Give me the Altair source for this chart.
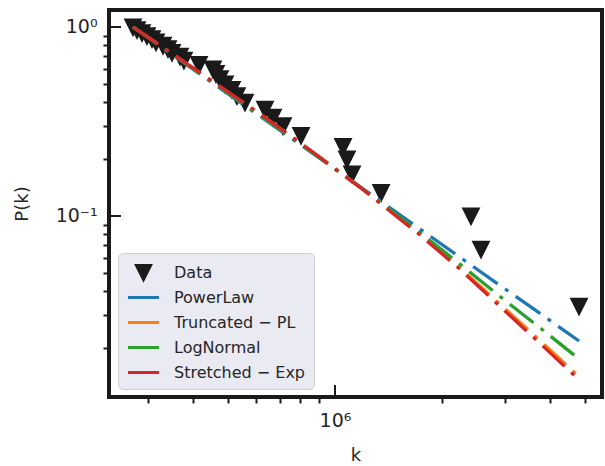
import altair as alt
import pandas as pd

# ---- data ----
k_data = [271800, 278900, 288000, 297400, 307200, 315200, 329800, 340600, 349500, 367900,
          377500, 416000, 455100, 464000, 476200, 491800, 514400, 531300, 559600, 636700,
          670400, 714900, 803200, 1053000, 1080000, 1116000, 1346000, 2404000, 2564000, 4826000]
p_data = [1.0, 0.967, 0.933, 0.9, 0.867, 0.833, 0.8, 0.767, 0.733, 0.7,
          0.667, 0.633, 0.6, 0.567, 0.533, 0.5, 0.467, 0.433, 0.4, 0.367,
          0.333, 0.3, 0.267, 0.233, 0.2, 0.167, 0.133, 0.1, 0.0667, 0.0333]

k_fit = [271800, 418600, 616500, 798000, 1175000, 1730000, 2239000, 2899000, 3752000, 4826000]
p_powerlaw = [1.0, 0.563, 0.337, 0.239, 0.143, 0.0854, 0.0605, 0.0429, 0.0305, 0.0218]
p_truncated = [1.0, 0.572, 0.345, 0.244, 0.142, 0.0803, 0.0530, 0.0341, 0.0219, 0.0141]
p_lognormal = [1.0, 0.568, 0.341, 0.2415, 0.142, 0.0818, 0.0556, 0.0375, 0.0256, 0.0175]
p_stretched = [1.0, 0.573, 0.347, 0.2445, 0.1418, 0.0793, 0.0523, 0.0332, 0.0212, 0.01356]

models = ["PowerLaw", "Truncated − PL", "LogNormal", "Stretched − Exp"]
model_colors = ["#1f77b4", "#ff7f0e", "#2ca02c", "#d62728"]
series_domain = ["Data"] + models
series_colors = ["#1a1a1a"] + model_colors
tri_path = "M-0.7,-0.7L0.7,-0.7L0,0.7Z"
line_path = "M-1.55,0L1.55,0"
series_shapes = [tri_path, line_path, line_path, line_path, line_path]

x_ticks = [3e5, 4e5, 5e5, 6e5, 7e5, 8e5, 9e5, 1e6, 2e6, 3e6, 4e6, 5e6]
y_ticks = [0.02, 0.03, 0.04, 0.05, 0.06, 0.07, 0.08, 0.09, 0.1,
           0.2, 0.3, 0.4, 0.5, 0.6, 0.7, 0.8, 0.9, 1.0]
x_major = [1e6]
y_major = [0.1, 1.0]

# ---- tables ----
df_pts = pd.DataFrame({"k": k_data, "p": p_data, "series": "Data"})
fit_cols = [p_powerlaw, p_truncated, p_lognormal, p_stretched]
df_fit = pd.concat([pd.DataFrame({"k": k_fit, "p": vals, "model": m})
                    for m, vals in zip(models, fit_cols)], ignore_index=True)

xscale = alt.Scale(type="log", domain=[232800, 5596000], nice=False)
yscale = alt.Scale(type="log", domain=[0.01102, 1.23], nice=False)

DARK = "#1a1a1a"
TXT = "#262626"
FONT = "DejaVu Sans"

x_axis = alt.Axis(
    values=x_ticks,
    labelExpr="datum.value == 1000000 ? '10⁶' : ''",
    tickOpacity={"condition": {"test": "datum.value == 1000000", "value": 0}, "value": 1},
    tickSize=6, tickWidth=2, tickColor=DARK, domain=False, grid=False,
    labelFont=FONT, labelFontSize=19, labelColor=TXT, labelPadding=8,
    labelOverlap=False, labelFlush=False,
    title="k", titleFont=FONT, titleFontSize=18, titleFontWeight="normal", titleColor=TXT,
    titleX=246.5, titleY=58, titleBaseline="middle", titleAlign="center",
)
y_axis = alt.Axis(
    values=y_ticks,
    labelExpr="datum.value == 1 ? '10⁰' : (datum.value == 0.1 ? '10⁻¹' : '')",
    tickOpacity={"condition": {"test": "datum.value == 1 || datum.value == 0.1", "value": 0}, "value": 1},
    tickSize=6, tickWidth=2, tickColor=DARK, domain=False, grid=False,
    labelFont=FONT, labelFontSize=19, labelColor=TXT, labelPadding=6,
    labelOverlap=False, labelFlush=False,
    title="P(k)", titleFont=FONT, titleFontSize=18, titleFontWeight="normal", titleColor=TXT,
    titleX=-87, titleY=193.5, titleAngle=-90, titleBaseline="middle", titleAlign="center",
)

leg = alt.Legend(
    orient="none", legendX=9, legendY=243, title=None,
    fillColor="#EAEAF2", strokeColor="#CFCFCF", cornerRadius=5, padding=8,
    labelFont=FONT, labelFontSize=16, labelColor=TXT, labelOffset=19,
    rowPadding=0, gridAlign="all", symbolSize=400, symbolStrokeWidth=3, symbolOffset=6,
    symbolOpacity=1,
)

points = alt.Chart(df_pts).mark_point(filled=True, opacity=1, strokeWidth=3, size=400).encode(
    x=alt.X("k:Q", scale=xscale, axis=x_axis),
    y=alt.Y("p:Q", scale=yscale, axis=y_axis),
    fill=alt.Fill("series:N", scale=alt.Scale(domain=series_domain, range=series_colors), legend=leg),
    stroke=alt.Stroke("series:N", scale=alt.Scale(domain=series_domain, range=series_colors), legend=leg),
    shape=alt.Shape("series:N", scale=alt.Scale(domain=series_domain, range=series_shapes), legend=leg),
)

ymaj = alt.Chart(pd.DataFrame({"p": y_major})).mark_rule(color=DARK, strokeWidth=2).encode(
    y=alt.Y("p:Q", scale=yscale, axis=y_axis), x=alt.value(0), x2=alt.value(12))
xmaj = alt.Chart(pd.DataFrame({"k": x_major})).mark_rule(color=DARK, strokeWidth=2).encode(
    x=alt.X("k:Q", scale=xscale, axis=x_axis), y=alt.value(375), y2=alt.value(387))

line_layers = []
for m in models:
    line_layers.append(
        alt.Chart(df_fit).transform_filter(alt.datum.model == m)
        .mark_line(strokeWidth=3.3, strokeDash=[30, 9, 4, 9], strokeCap="butt")
        .encode(
            x=alt.X("k:Q", scale=xscale, axis=x_axis),
            y=alt.Y("p:Q", scale=yscale, axis=y_axis),
            color=alt.Color("model:N", scale=alt.Scale(domain=models, range=model_colors), legend=None),
            order=alt.Order("k:Q"),
        )
    )

chart = alt.layer(points, ymaj, xmaj, *line_layers).properties(
    width=493, height=387,
    padding={"left": 109, "top": 10, "right": 3, "bottom": 69},
    autosize=alt.AutoSizeParams(type="none"),
    background="white",
).configure_view(stroke=DARK, strokeWidth=4)

chart.save("out.html", embed_options={"renderer": "svg", "actions": False})
